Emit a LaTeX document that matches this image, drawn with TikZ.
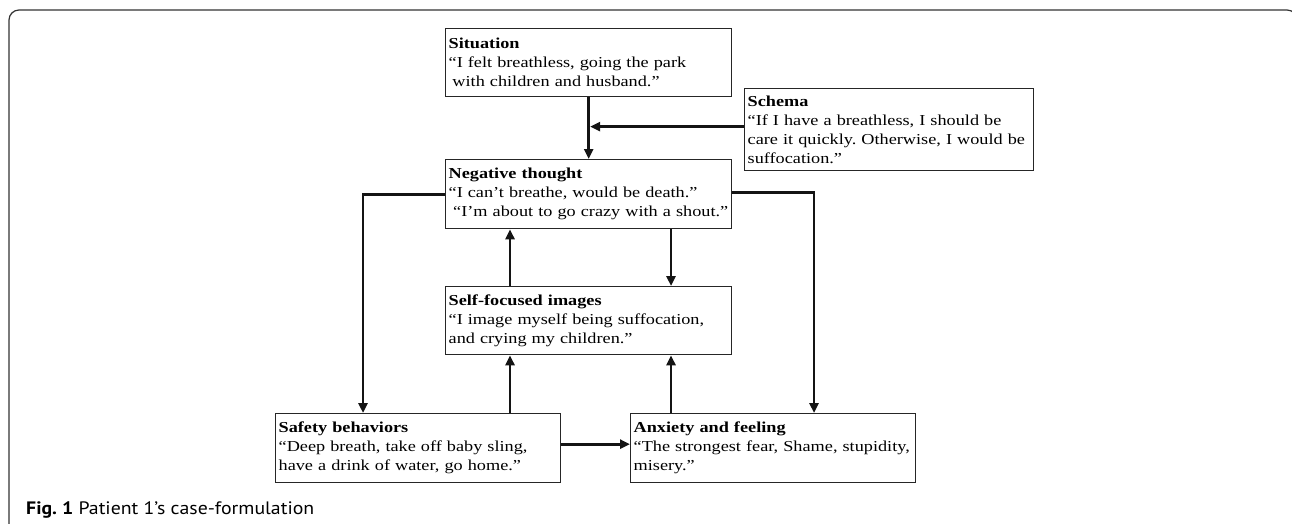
\documentclass[tikz,border=0pt]{standalone}
\usepackage{fontspec}
\setmainfont{Liberation Serif}
\newfontfamily\boxfont[FakeStretch=1.2]{Liberation Serif}
\newfontfamily\capfont[FakeStretch=1.1]{PT Sans}
\usetikzlibrary{arrows.meta}
\frenchspacing
\begin{document}
\begin{tikzpicture}[x=1pt,y=-1pt,
  box/.style={draw=black!85, line width=1.3pt, rectangle, anchor=north west,
    inner xsep=3pt, inner ysep=0pt, align=left,
    font=\boxfont\fontsize{15.2}{19}\selectfont},
  conn/.style={line width=2.7pt, draw=black!92, -{Triangle[length=10pt,width=9pt]}},
  frame/.style={line width=1.2pt, draw=black!80, rounded corners=10pt}]
\useasboundingbox (0,0) rectangle (1292,524);
\clip (0,0) rectangle (1292,524);
\draw[frame] (9,540) -- (9,10) -- (1297,10) -- (1297,540);

\node[box, minimum width=286pt, minimum height=68pt, text width=280pt] (sit) at (445,28)
  {\textbf{Situation}\\“I felt breathless, going the park\\\hspace*{0.25em}with children and husband.”};
\node[box, minimum width=289pt, minimum height=82pt, text width=283pt] (schema) at (744,88)
  {\textbf{Schema}\\“If I have a breathless, I should be\\\mbox{care it quickly. Otherwise, I would be}\\suffocation.”};
\node[box, minimum width=286pt, minimum height=69pt, text width=280pt] (neg) at (445,159)
  {\textbf{Negative thought}\\“I can’t breathe, would be death.”\\\hspace*{0.3em}“I’m about to go crazy with a shout.”};
\node[box, minimum width=286pt, minimum height=68pt, text width=280pt] (self) at (445,286)
  {\textbf{Self-focused images}\\“I image myself being suffocation,\\and crying my children.”};
\node[box, minimum width=285pt, minimum height=69pt, text width=279pt] (safe) at (275,413)
  {\textbf{Safety behaviors}\\“Deep breath, take off baby sling,\\have a drink of water, go home.”};
\node[box, minimum width=285pt, minimum height=69pt, text width=279pt] (anx) at (630,413)
  {\textbf{Anxiety and feeling}\\\mbox{“The strongest fear, Shame, stupidity,}\\misery.”};

\node[anchor=base west, inner sep=0pt, font=\capfont\fontsize{18}{21}\selectfont] (cap) at (26,514)
  {\textbf{Fig. 1} Patient 1’s case-formulation};

\draw[conn] (sit.south) -- (neg.north);
\draw[conn] ([yshift=3pt]schema.west) -- ([yshift=3pt,xshift=1.5pt]schema.west -| sit.south);
\draw[conn] (neg.west) -| ([xshift=88pt]safe.north west);
\draw[conn] ([yshift=2pt]neg.east) -| ([xshift=184pt]anx.north west);
\draw[conn] ([xshift=65pt]self.north west) -- ([xshift=65pt]neg.south west);
\draw[conn] ([xshift=226pt]neg.south west) -- ([xshift=226pt]self.north west);
\draw[conn] ([xshift=235pt]safe.north west) -- ([xshift=65pt]self.south west);
\draw[conn] ([xshift=41pt]anx.north west) -- ([xshift=226pt]self.south west);
\draw[conn] ([yshift=4pt]safe.east) -- ([yshift=4pt]anx.west);
\end{tikzpicture}
\end{document}
